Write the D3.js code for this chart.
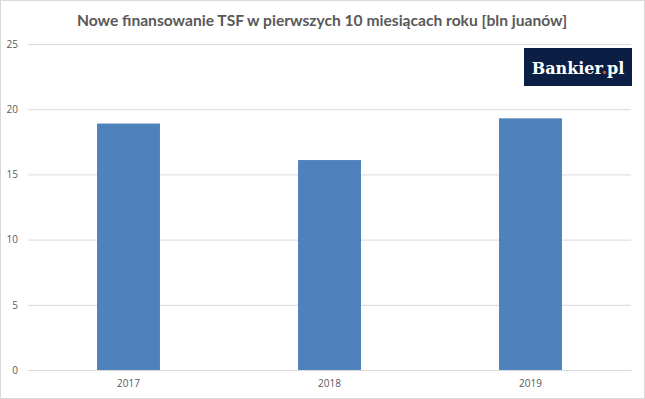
<!DOCTYPE html>
<html>
<head>
    <meta charset="utf-8">
    <style>
        body { margin: 0; background: #fff; }
    </style>
</head>
<body>
    <script src="https://cdn.jsdelivr.net/npm/d3@7"></script>
    <script>
        var years = ["2017", "2018", "2019"];
        var values = [18.9, 16.1, 19.3];
        var yTicks = [0, 5, 10, 15, 20, 25];
        var title = "Nowe finansowanie TSF w pierwszych 10 miesiącach roku [bln juanów]";

        var totalWidth = 645, totalHeight = 399;
        var margins = { left: 28, top: 44, right: 14, bottom: 29 };
        var graphWidth = totalWidth - margins.left - margins.right;
        var graphHeight = totalHeight - margins.top - margins.bottom;

        var svg = d3.select('body')
            .append('svg')
            .attr('width', totalWidth)
            .attr('height', totalHeight)
            .style('display', 'block');

        // outer frame
        svg.append('rect')
            .attr('x', 0.5).attr('y', 0.5)
            .attr('width', totalWidth - 1).attr('height', totalHeight - 1)
            .attr('fill', '#fff')
            .attr('stroke', '#d9d9d9');

        var x = d3.scaleBand()
            .domain(years)
            .range([0, graphWidth])
            .paddingInner(0.687)
            .paddingOuter(0.3435);

        var y = d3.scaleLinear()
            .domain([0, 25])
            .range([graphHeight, 0]);

        var g = svg.append('g')
            .attr('transform', 'translate(' + margins.left + ',' + margins.top + ')');

        // gridlines + y labels
        var yAxis = d3.axisLeft(y)
            .tickValues(yTicks)
            .tickSize(-graphWidth)
            .tickPadding(10);
        var yNodes = g.append('g').call(yAxis);
        yNodes.select('.domain').remove();
        yNodes.selectAll('.tick line').attr('stroke', '#d9d9d9');
        yNodes.selectAll('.tick text')
            .attr('fill', '#595959')
            .style('font-family', 'Open Sans, sans-serif')
            .style('font-size', '10px');

        g.selectAll('rect.bar')
            .data(values)
            .enter()
            .append('rect')
            .attr('class', 'bar')
            .attr('x', function (d, i) { return x(years[i]); })
            .attr('width', x.bandwidth())
            .attr('y', function (d) { return y(d); })
            .attr('height', function (d) { return graphHeight - y(d); })
            .attr('fill', '#4f81bd');

        var xAxis = d3.axisBottom(x).tickSize(0).tickPadding(10);
        var xNodes = g.append('g')
            .attr('transform', 'translate(0,' + graphHeight + ')')
            .call(xAxis);
        xNodes.select('.domain').attr('stroke', '#d9d9d9');
        xNodes.selectAll('.tick text')
            .attr('fill', '#595959')
            .style('font-family', 'Open Sans, sans-serif')
            .style('font-size', '10px');

        svg.append('text')
            .attr('x', 322)
            .attr('y', 26)
            .attr('text-anchor', 'middle')
            .attr('fill', '#595959')
            .style('font-family', 'Lato, sans-serif')
            .style('font-weight', 'bold')
            .style('font-size', '15.6px')
            .text(title);

        // logo
        var logo = svg.append('g').attr('transform', 'translate(524,48)');
        logo.append('rect')
            .attr('width', 108).attr('height', 38)
            .attr('fill', '#0b1f45');
        var lt = logo.append('text')
            .attr('x', 54).attr('y', 26)
            .attr('text-anchor', 'middle')
            .attr('fill', '#fff')
            .style('font-family', 'DejaVu Serif, serif')
            .style('font-weight', 'bold')
            .style('font-size', '16px');
        lt.append('tspan').text('Bankier');
        lt.append('tspan').attr('fill', '#e8572a').text('.');
        lt.append('tspan').text('pl');
    </script>
</body>
</html>
